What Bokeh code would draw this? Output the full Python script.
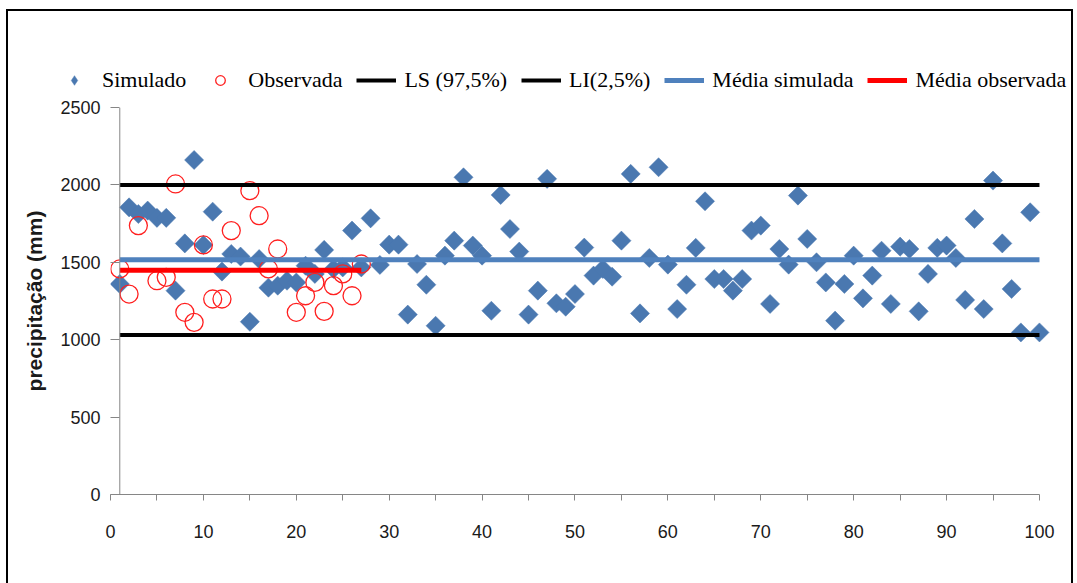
from math import pi

from bokeh.embed import file_html
from bokeh.layouts import column
from bokeh.models import FixedTicker, Legend, LegendItem, Range1d, Span
from bokeh.plotting import figure
from bokeh.resources import INLINE

# Anos da série simulada (1..100) e precipitação anual simulada (mm)
ano = list(range(1, 101))
simulado = [
    1360, 1855, 1812, 1834, 1787, 1787, 1317, 1622, 2161, 1612,
    1827, 1440, 1554, 1537, 1116, 1521, 1336, 1349, 1381, 1370,
    1478, 1425, 1580, 1457, 1467, 1705, 1467, 1784, 1483, 1614,
    1614, 1162, 1489, 1355, 1090, 1543, 1640, 2049, 1608, 1543,
    1187, 1935, 1715, 1569, 1162, 1317, 2039, 1235, 1213, 1295,
    1595, 1414, 1457, 1407, 1640, 2071, 1170, 1528, 2114, 1485,
    1198, 1355, 1593, 1894, 1392, 1392, 1317, 1392, 1705, 1737,
    1231, 1586, 1485, 1931, 1651, 1500, 1370, 1123, 1360, 1543,
    1267, 1414, 1575, 1231, 1601, 1586, 1183, 1425, 1593, 1608,
    1528, 1257, 1780, 1198, 2028, 1622, 1328, 1047, 1823, 1047,
]

# Anos com registro observado e precipitação observada (mm)
ano_obs = [1, 2, 3, 5, 6, 7, 8, 9, 10, 11, 12, 13, 15, 16, 17, 18,
           20, 21, 22, 23, 24, 25, 26, 27]
observada = [1457, 1295, 1737, 1381, 1403, 2006, 1177, 1112, 1612, 1263,
             1263, 1705, 1963, 1801, 1457, 1586, 1177, 1284, 1370, 1183,
             1349, 1425, 1284, 1489]

# Limites do intervalo de confiança (mm)
ls_975 = 2000
li_025 = 1030

media_sim = sum(simulado) / len(simulado)
media_obs = sum(observada) / len(observada)

x_ticks = list(range(0, 101, 10))
x_minor = list(range(5, 100, 10))
y_ticks = list(range(0, 2501, 500))

labels = ["Simulado", "Observada", "LS (97,5%)", "LI(2,5%)",
          "Média simulada", "Média observada"]

W = 1063
H_LEG, H_MAIN = 85, 487
AXIS_GRAY = "#868686"
BLUE_PT = "#4A78B0"

# estilos das séries
SIM = dict(marker="square", angle=pi / 4, size=13.5,
           fill_color=BLUE_PT, line_color=BLUE_PT, line_width=0.5)
SIM_LEG = dict(marker="diamond", size=19,
               fill_color=BLUE_PT, line_color=BLUE_PT, line_width=0.5)
OBS = dict(marker="circle", size=18, fill_color=None,
           line_color="#FF2020", line_width=1.3)
OBS_LEG = dict(OBS, size=14)
LIM = dict(line_color="black", line_width=4)
MSIM = dict(line_color="#4F81BD", line_width=5)
MOBS = dict(line_color="#FF0000", line_width=5)


def add_series(fig, sim_style, obs_style):
    """Desenha as seis séries numa figura e devolve os renderizadores."""
    return [
        fig.scatter(ano, simulado, **sim_style),
        fig.scatter(ano_obs, observada, **obs_style),
        fig.line([1, 100], [ls_975, ls_975], **LIM),
        fig.line([1, 100], [li_025, li_025], **LIM),
        fig.line([1, 100], [media_sim, media_sim], **MSIM),
        fig.line([1, 27], [media_obs, media_obs], **MOBS),
    ]


# ---------------- gráfico principal ----------------
p = figure(
    width=W, height=H_MAIN,
    output_backend="svg", toolbar_location=None,
    x_range=Range1d(0, 102.48), y_range=Range1d(0, 2500),
    min_border_left=102, min_border_right=9,
    min_border_top=11, min_border_bottom=89,
)
p.outline_line_color = None
p.grid.visible = False
add_series(p, SIM, OBS)

# eixo vertical traçado em x = 1
p.add_layout(Span(location=1, dimension="height", line_color=AXIS_GRAY, line_width=1))

xa = p.xaxis[0]
xa.ticker = FixedTicker(ticks=x_ticks, minor_ticks=x_minor)
xa.bounds = (0, 100)
xa.axis_line_color = AXIS_GRAY
xa.major_tick_line_color = AXIS_GRAY
xa.minor_tick_line_color = AXIS_GRAY
xa.major_tick_in = 0
xa.major_tick_out = 6
xa.minor_tick_in = 0
xa.minor_tick_out = 6
xa.major_label_standoff = 24
xa.major_label_text_font = "Liberation Sans"
xa.major_label_text_font_size = "18px"
xa.major_label_text_color = "#1a1a1a"

ya = p.yaxis[0]
ya.ticker = FixedTicker(ticks=y_ticks)
ya.axis_line_color = None
ya.major_tick_line_color = AXIS_GRAY
ya.minor_tick_line_color = None
ya.major_tick_in = 9
ya.major_tick_out = 0
ya.major_label_standoff = 10
ya.major_label_text_font = "Liberation Sans"
ya.major_label_text_font_size = "18px"
ya.major_label_text_color = "#1a1a1a"
ya.axis_label = "precipitação (mm)"
ya.axis_label_text_font = "Liberation Sans"
ya.axis_label_text_font_style = "bold"
ya.axis_label_text_font_size = "21px"
ya.axis_label_text_color = "#1a1a1a"
ya.axis_label_standoff = 11

# ---------------- faixa da legenda ----------------
# mesma série de dados, fora da janela visível: só a legenda aparece
leg = figure(
    width=W, height=H_LEG,
    output_backend="svg", toolbar_location=None,
    x_range=Range1d(-20, -10), y_range=Range1d(-20, -10),
    x_axis_type=None, y_axis_type=None,
    min_border_left=0, min_border_right=0,
    min_border_top=0, min_border_bottom=0,
)
leg.outline_line_color = None
leg.grid.visible = False
leg_renderers = add_series(leg, SIM_LEG, OBS_LEG)

for fig in (leg, p):
    if hasattr(fig, "frame_align"):
        fig.frame_align = False

legend = Legend(
    items=[LegendItem(label=t, renderers=[r]) for t, r in zip(labels, leg_renderers)],
    orientation="horizontal",
    location=(46, 3),
    padding=0, margin=0, spacing=14,
    glyph_width=40, glyph_height=24, label_height=24, label_standoff=8,
    border_line_color=None, background_fill_alpha=0,
    label_text_font="Liberation Serif", label_text_font_size="22px",
    label_text_color="black",
)
leg.add_layout(legend)

page = column(
    leg, p,
    styles={
        "margin-left": "6px",
        "margin-top": "9px",
        "border-left": "2px solid black",
        "border-top": "2px solid black",
        "border-right": "2px solid black",
    },
)

open("out.html", "w").write(file_html(page, INLINE))
